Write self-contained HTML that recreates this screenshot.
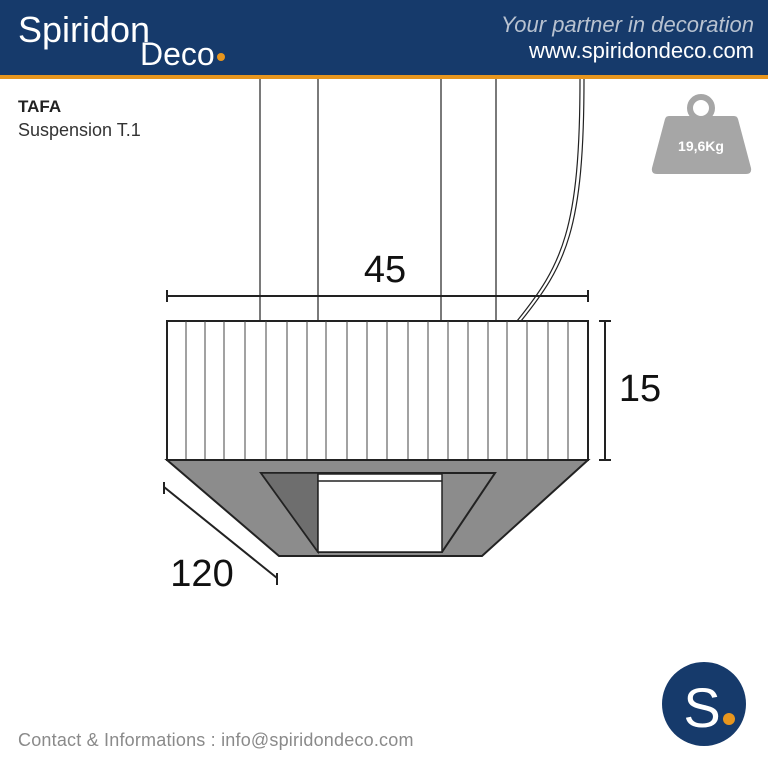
<!DOCTYPE html>
<html><head><meta charset="utf-8"><style>
body{margin:0;width:768px;height:768px;background:#fff;overflow:hidden;font-family:"Liberation Sans",sans-serif}
</style></head><body>
<svg width="768" height="768" xmlns="http://www.w3.org/2000/svg" style="position:absolute;left:0;top:0">
<rect x="0" y="0" width="768" height="76" fill="#163a6b"/>
<rect x="0" y="75" width="768" height="4" fill="#e8961e"/>
<text x="18" y="42" fill="#fff" font-size="36" font-family="Liberation Sans">Spiridon</text>
<text x="140" y="65" fill="#fff" font-size="32" font-family="Liberation Sans">Deco</text>
<circle cx="221" cy="57" r="4" fill="#e8961e"/>
<text x="754" y="32" fill="#b8c2d0" font-size="22" font-style="italic" text-anchor="end">Your partner in decoration</text>
<text x="754" y="58" fill="#fff" font-size="22" text-anchor="end">www.spiridondeco.com</text>
<text x="18" y="112" fill="#222" font-size="17" font-weight="bold">TAFA</text>
<text x="18" y="136" fill="#333" font-size="18">Suspension T.1</text>
<!-- weight -->
<circle cx="701" cy="108" r="11" fill="none" stroke="#a6a6a6" stroke-width="6"/>
<path d="M669,116 L734,116 Q737,116 738,119 L751,168 Q752,174 746,174 L657,174 Q651,174 652,168 L665,119 Q666,116 669,116Z" fill="#a6a6a6"/>
<text x="701" y="151" fill="#fff" font-size="14" font-weight="bold" text-anchor="middle">19,6Kg</text>
<!-- wires -->
<g stroke="#222" stroke-width="1.2">
<line x1="260" y1="79" x2="260" y2="321"/><line x1="318" y1="79" x2="318" y2="321"/>
<line x1="441" y1="79" x2="441" y2="321"/><line x1="496" y1="79" x2="496" y2="321"/>
</g>
<g fill="none" stroke="#222" stroke-width="1.2">
<path d="M580,79 C580,230 562,265 517,321"/><path d="M584,79 C584,230 566,265 521,321"/>
</g>
<g stroke="#222" stroke-width="2">
<line x1="167" y1="296" x2="588" y2="296"/><line x1="167" y1="290" x2="167" y2="302"/><line x1="588" y1="290" x2="588" y2="302"/>
<line x1="605" y1="321" x2="605" y2="460"/><line x1="599" y1="321" x2="611" y2="321"/><line x1="599" y1="460" x2="611" y2="460"/>
<line x1="164" y1="487" x2="277" y2="578"/><line x1="164" y1="482" x2="164" y2="494"/><line x1="277" y1="573" x2="277" y2="585"/>
</g>
<text x="385" y="282" font-size="38" fill="#111" text-anchor="middle">45</text>
<text x="640" y="401" font-size="38" fill="#111" text-anchor="middle">15</text>
<text x="202" y="586" font-size="38" fill="#111" text-anchor="middle">120</text>
<rect x="167" y="321" width="421" height="139" fill="#fff" stroke="#222" stroke-width="2"/>
<g stroke="#444" stroke-width="1">
<line x1="186" y1="321" x2="186" y2="460"/><line x1="205" y1="321" x2="205" y2="460"/><line x1="224" y1="321" x2="224" y2="460"/><line x1="245" y1="321" x2="245" y2="460"/><line x1="266" y1="321" x2="266" y2="460"/><line x1="287" y1="321" x2="287" y2="460"/><line x1="307" y1="321" x2="307" y2="460"/><line x1="326" y1="321" x2="326" y2="460"/><line x1="347" y1="321" x2="347" y2="460"/><line x1="367" y1="321" x2="367" y2="460"/><line x1="387" y1="321" x2="387" y2="460"/><line x1="408" y1="321" x2="408" y2="460"/><line x1="428" y1="321" x2="428" y2="460"/><line x1="448" y1="321" x2="448" y2="460"/><line x1="468" y1="321" x2="468" y2="460"/><line x1="488" y1="321" x2="488" y2="460"/><line x1="507" y1="321" x2="507" y2="460"/><line x1="527" y1="321" x2="527" y2="460"/><line x1="548" y1="321" x2="548" y2="460"/><line x1="568" y1="321" x2="568" y2="460"/>
</g>
<polygon points="167,460 588,460 482,556 279,556" fill="#8c8c8c" stroke="#222" stroke-width="2"/>
<polygon points="261,473 495,473 442,552 318,552" fill="#8c8c8c" stroke="#222" stroke-width="2"/>
<polygon points="261,473 318,473 318,552" fill="#6e6e6e" stroke="#222" stroke-width="1.5"/>
<rect x="318" y="474" width="124" height="78" fill="#fff" stroke="#222" stroke-width="1.5"/>
<line x1="318" y1="481" x2="442" y2="481" stroke="#222" stroke-width="1.5"/>
<text x="18" y="746" font-size="18" fill="#8a8a8a" letter-spacing="0.2">Contact &amp; Informations : info@spiridondeco.com</text>
<circle cx="704" cy="704" r="42" fill="#163a6b"/>
<text x="702" y="727" font-size="56" fill="#fff" text-anchor="middle">S</text>
<circle cx="729" cy="719" r="6" fill="#e8961e"/>
</svg>
</body></html>
